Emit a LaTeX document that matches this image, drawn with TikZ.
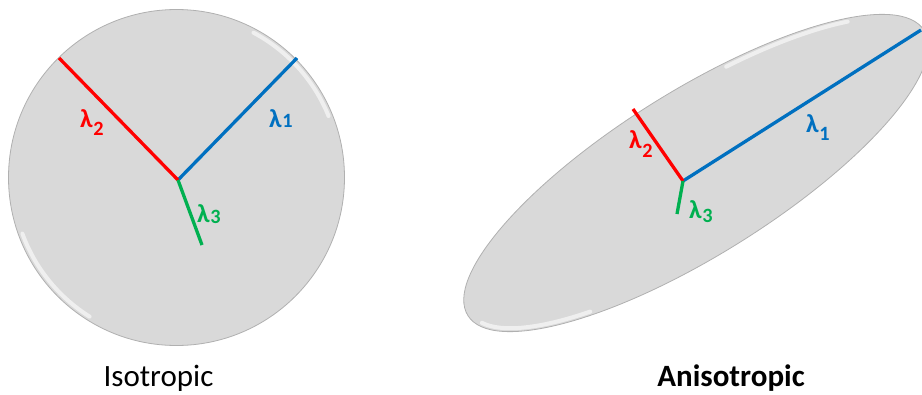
\documentclass[tikz,border=0pt]{standalone}
\usepackage{fontspec}
\setmainfont{Carlito}
\usetikzlibrary{calc}
\definecolor{AxisRed}{HTML}{FF0000}
\definecolor{AxisBlue}{HTML}{0070C0}
\definecolor{AxisGreen}{HTML}{00B050}
\definecolor{BodyGray}{HTML}{D9D9D9}
\definecolor{RimGray}{HTML}{B0B0B0}
\newcommand{\lam}[2]{λ\kern0.5pt\raisebox{-#2}{\scalebox{0.78}{#1}}}

\begin{document}
\begin{tikzpicture}[x=1pt,y=-1pt,
    body/.style={fill=BodyGray,draw=RimGray,line width=0.8pt},
    gloss/.style={white,line width=4pt,line cap=round,opacity=0.6},
    axis/.style={line width=3.3pt},
    lamlabel/.style={font=\bfseries\fontsize{26}{26}\selectfont,inner sep=0pt,anchor=base west},
    caption/.style={font=\fontsize{31}{31}\selectfont,inner sep=0pt,anchor=base}]
  \useasboundingbox (0,0) rectangle (922,394);

  % isotropic body
  \draw[body] (176.5,177.5) circle[radius=168];
  \draw[gloss] (176.5,177.5) ++(-62:164) arc[start angle=-62,end angle=-22,radius=164];
  \draw[gloss] (176.5,177.5) ++(122:164) arc[start angle=122,end angle=160,radius=164];

  % anisotropic body
  \begin{scope}[shift={(696,173)},rotate=32]
    \draw[body] (0,0) ellipse[x radius=269,y radius=82];
    \draw[gloss] (128:265 and 78) arc[start angle=128,end angle=170,x radius=265,y radius=78];
    \draw[gloss] (-72:265 and 78) arc[start angle=-72,end angle=-38,x radius=265,y radius=78];
  \end{scope}

  % axes
  \coordinate (iso) at (178,180);
  \coordinate (iso1) at (297,58);
  \coordinate (iso2) at (59,58);
  \coordinate (iso3) at (202,245);
  \coordinate (aniso) at (683,181);
  \coordinate (aniso1) at (921,30);
  \coordinate (aniso2) at (633,109);
  \coordinate (aniso3) at (677,214);

  \draw[axis,AxisBlue] (iso) -- (iso1);
  \draw[axis,AxisRed] (iso) -- (iso2);
  \draw[axis,AxisGreen] (iso) -- (iso3);
  \draw[axis,AxisBlue] (aniso) -- (aniso1);
  \draw[axis,AxisRed] (aniso) -- (aniso2);
  \draw[axis,AxisGreen] (aniso) -- (aniso3);

  % labels
  \node[lamlabel,AxisRed] (isoL2) at (80,127) {\lam{2}{8pt}};
  \node[lamlabel,AxisBlue] (isoL1) at (269,127) {\lam{1}{0pt}};
  \node[lamlabel,AxisGreen] (isoL3) at (197,222) {\lam{3}{1pt}};
  \node[lamlabel,AxisBlue] (anisoL1) at (806,132) {\lam{1}{8pt}};
  \node[lamlabel,AxisRed] (anisoL2) at (629,148) {\lam{2}{9pt}};
  \node[lamlabel,AxisGreen] (anisoL3) at (689,218) {\lam{3}{4pt}};

  \node[caption] (isoCap) at (158.5,386) {Isotropic};
  \node[caption,font=\bfseries\fontsize{31}{31}\selectfont] (anisoCap) at (731,386) {Anisotropic};
\end{tikzpicture}
\end{document}
